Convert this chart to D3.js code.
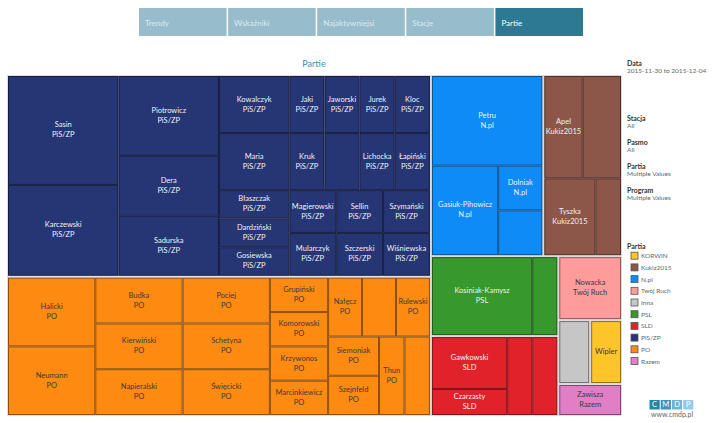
<!DOCTYPE html>
<html>
<head>
<meta charset="utf-8">
<script src="https://cdn.jsdelivr.net/npm/d3@7"></script>
<style>
  body { margin: 0; background: #fff; }
  svg text { font-family: Lato, "Open Sans", sans-serif; }
</style>
</head>
<body>
<div id="chart"></div>
<script>
const svgWidth = 720
const svgHeight = 423

// Tabs across the top
const tabs = ["Trendy", "Wskaźniki", "Najaktywniejsi", "Stacje", "Partie"]
const activeTab = "Partie"

// Parties, in the order Tableau listed them (ties keep this order)
const parties = ["PiS/ZP", "PO", "N.pl", "Kukiz2015", "PSL", "SLD", "Twój Ruch", "Inna", "KORWIN", "Razem"]

// Members of each party and their values (empty name = no label shown)
const pisNames = ["Sasin", "Karczewski", "Piotrowicz", "Dera", "Sadurska", "Kowalczyk", "Maria",
  "Błaszczak", "Dardziński", "Gosiewska", "Jaki", "Jaworski", "Jurek", "Kloc", "Kruk", "",
  "Lichocka", "Łapiński", "Magierowski", "Mularczyk", "Sellin", "Szczerski", "Szymański", "Wiśniewska"]
const pisValues = [6, 5, 4, 3, 3, 2, 2, 1, 1, 1, 1, 1, 1, 1, 1, 1, 1, 1, 1, 1, 1, 1, 1, 1]

const poNames = ["Halicki", "Neumann", "Budka", "Kierwiński", "Napieralski", "Pociej", "Schetyna", "Święcicki",
  "Grupiński", "Komorowski", "Krzywonos", "Marcinkiewicz", "Nałęcz", "", "Rulewski", "Siemoniak", "Szejnfeld", "Thun", ""]
const poValues = [3, 3, 2, 2, 2, 2, 2, 2, 1, 1, 1, 1, 1, 1, 1, 1, 1, 1, 1]

const nplNames = ["Petru", "Gasiuk-Pihowicz", "Dolniak", ""]
const nplValues = [5, 3, 1, 1]

const kukizNames = ["Apel", "", "Tyszka", ""]
const kukizValues = [2, 2, 2, 1]

const pslNames = ["Kosiniak-Kamysz", ""]
const pslValues = [4, 1]

const sldNames = ["Gawkowski", "Czarzasty", "", ""]
const sldValues = [2, 1, 1, 1]

const trNames = ["Nowacka"]
const trValues = [2]
const innaNames = [""]
const innaValues = [1]
const korwinNames = ["Wipler"]
const korwinValues = [1]
const razemNames = ["Zawisza"]
const razemValues = [1]

const memberNames = [pisNames, poNames, nplNames, kukizNames, pslNames, sldNames, trNames, innaNames, korwinNames, razemNames]
const memberValues = [pisValues, poValues, nplValues, kukizValues, pslValues, sldValues, trValues, innaValues, korwinValues, razemValues]

// Party line that did not fit its cell in the original
const hidePartyLabel = ["KORWIN"]

// Legend
const legendParties = ["KORWIN", "Kukiz2015", "N.pl", "Twój Ruch", "Inna", "PSL", "SLD", "PiS/ZP", "PO", "Razem"]
const legendColors = ["#fdc52a", "#8c5649", "#0e8bf6", "#fd9c9b", "#c6c6c6", "#36982d", "#e2222a", "#263574", "#fd8b12", "#e07ec6"]
const darkText = ["KORWIN", "Twój Ruch", "Inna", "PO", "Razem"]

// Filters on the right
const filterTitles = ["Data", "Stacja", "Pasmo", "Partia", "Program"]
const filterValues = ["2015-11-30 to 2015-12-04", "All", "All", "Multiple Values", "Multiple Values"]

const color = d3.scaleOrdinal().domain(legendParties).range(legendColors)

let svg = d3.select("#chart")
  .append("svg")
  .attr("width", svgWidth)
  .attr("height", svgHeight)

// Tabs
let tabScale = d3.scaleBand().domain(tabs).range([139, 583]).paddingInner(0.017)
let tabGroup = svg.append("g")
tabGroup.selectAll("rect")
  .data(tabs)
  .enter()
  .append("rect")
  .attr("x", d => tabScale(d))
  .attr("y", 8)
  .attr("width", tabScale.bandwidth())
  .attr("height", 28)
  .attr("fill", d => d === activeTab ? "#2d7892" : "#97bdcc")
tabGroup.selectAll("text")
  .data(tabs)
  .enter()
  .append("text")
  .attr("x", d => tabScale(d) + 6)
  .attr("y", 23)
  .attr("dominant-baseline", "central")
  .style("font-size", "8px")
  .style("fill", d => d === activeTab ? "#ffffff" : "#dce9ef")
  .text(d => d)

// Title
svg.append("text")
  .attr("x", 314)
  .attr("y", 63)
  .attr("text-anchor", "middle")
  .attr("dominant-baseline", "central")
  .style("font-size", "9px")
  .style("fill", "#3f8fae")
  .text("Partie")

// Treemap
const tmWidth = 613
const tmHeight = 339
let root = d3.hierarchy({
    children: parties.map((p, i) => ({
      name: p,
      children: memberNames[i].map((n, j) => ({ name: n, party: p, value: memberValues[i][j] }))
    }))
  })
  .sum(d => d.value || 0)
  .sort((a, b) => b.value - a.value)

d3.treemap()
  .tile(d3.treemapSquarify)
  .size([tmWidth, tmHeight])
  .paddingInner(d => d.depth === 0 ? 2 : 0)(root)

let chartGroup = svg.append("g").attr("transform", "translate(8, 76)")

chartGroup.append("rect")
  .attr("x", -1)
  .attr("y", -1)
  .attr("width", tmWidth + 2)
  .attr("height", tmHeight + 2)
  .attr("fill", "#dcdcdc")

let leaves = chartGroup.selectAll("g.leaf")
  .data(root.leaves())
  .enter()
  .append("g")
  .classed("leaf", true)

leaves.append("rect")
  .attr("x", d => d.x0 + 0.5)
  .attr("y", d => d.y0 + 0.5)
  .attr("width", d => d.x1 - d.x0 - 1)
  .attr("height", d => d.y1 - d.y0 - 1)
  .attr("fill", d => color(d.data.party))
  .attr("stroke", d => d3.color(color(d.data.party)).darker(1.6))
  .attr("stroke-width", 1)

let labels = leaves.filter(d => d.data.name !== "")
  .append("text")
  .attr("text-anchor", "middle")
  .style("font-size", "7.5px")
  .style("fill", d => darkText.includes(d.data.party) ? "#3a3a3a" : "#eef0f6")

// two-line labels: name and party
labels.filter(d => !hidePartyLabel.includes(d.data.party))
  .each(function(d) {
    let t = d3.select(this)
    t.append("tspan")
      .attr("x", (d.x0 + d.x1) / 2)
      .attr("y", (d.y0 + d.y1) / 2 - 5.5)
      .attr("dominant-baseline", "central")
      .text(d.data.name)
    t.append("tspan")
      .attr("x", (d.x0 + d.x1) / 2)
      .attr("y", (d.y0 + d.y1) / 2 + 4.5)
      .attr("dominant-baseline", "central")
      .text(d.data.party)
  })

// name only
labels.filter(d => hidePartyLabel.includes(d.data.party))
  .attr("x", d => (d.x0 + d.x1) / 2)
  .attr("y", d => (d.y0 + d.y1) / 2 - 1)
  .attr("dominant-baseline", "central")
  .text(d => d.data.name)

// Filters panel
let filterGroup = svg.append("g").attr("transform", "translate(627, 0)")
filterTitles.forEach((t, i) => {
  let y = i === 0 ? 63 : 118 + (i - 1) * 24
  filterGroup.append("text")
    .attr("y", y)
    .attr("dominant-baseline", "central")
    .style("font-size", "7px")
    .style("font-weight", "bold")
    .style("fill", "#333")
    .text(t)
  filterGroup.append("text")
    .attr("y", y + 7.5)
    .attr("dominant-baseline", "central")
    .style("font-size", "6.5px")
    .style("fill", "#666")
    .text(filterValues[i])
})

// Legend
let legendGroup = svg.append("g").attr("transform", "translate(627, 0)")
legendGroup.append("text")
  .attr("y", 245.5)
  .attr("dominant-baseline", "central")
  .style("font-size", "7px")
  .style("font-weight", "bold")
  .style("fill", "#333")
  .text("Partia")
let legendY = d3.scalePoint().domain(legendParties).range([255.7, 361])
legendGroup.selectAll("rect")
  .data(legendParties)
  .enter()
  .append("rect")
  .attr("x", 4)
  .attr("y", d => legendY(d) - 3.5)
  .attr("width", 7)
  .attr("height", 7)
  .attr("fill", d => color(d))
  .attr("stroke", "#555")
  .attr("stroke-width", 0.8)
legendGroup.selectAll("text.item")
  .data(legendParties)
  .enter()
  .append("text")
  .classed("item", true)
  .attr("x", 14)
  .attr("y", d => legendY(d))
  .attr("dominant-baseline", "central")
  .style("font-size", "6.5px")
  .style("fill", "#666")
  .text(d => d)

// Logo
const logoLetters = ["C", "M", "D", "P"]
const logoColors = ["#2a84a6", "#3f93b6", "#6cb5d6", "#93cce6"]
let logoGroup = svg.append("g")
logoGroup.selectAll("rect")
  .data(logoLetters)
  .enter()
  .append("rect")
  .attr("x", (d, i) => 649.5 + i * 11.2)
  .attr("y", 400)
  .attr("width", 10.2)
  .attr("height", 9.5)
  .attr("fill", (d, i) => logoColors[i])
logoGroup.selectAll("text")
  .data(logoLetters)
  .enter()
  .append("text")
  .attr("x", (d, i) => 649.5 + i * 11.2 + 5.1)
  .attr("y", 404.8)
  .attr("text-anchor", "middle")
  .attr("dominant-baseline", "central")
  .style("font-size", "7.5px")
  .style("fill", "#fff")
  .text(d => d)
svg.append("text")
  .attr("x", 672)
  .attr("y", 414)
  .attr("text-anchor", "middle")
  .attr("dominant-baseline", "central")
  .style("font-size", "7px")
  .style("fill", "#666")
  .text("www.cmdp.pl")
</script>
</body>
</html>
